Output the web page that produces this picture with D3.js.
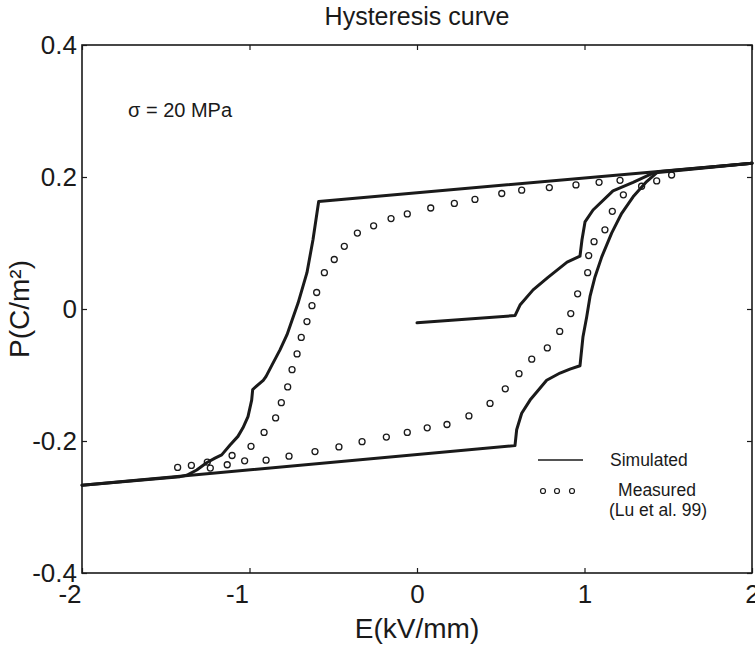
<!DOCTYPE html>
<html>
<head>
<meta charset="utf-8">
<script src="https://cdn.jsdelivr.net/npm/d3@7"></script>
<style>
  html, body { margin: 0; padding: 0; background: #fff; }
  svg { display: block; font-family: "Liberation Sans", Arial, Helvetica, sans-serif; }
</style>
</head>
<body>
<svg id="chart" width="755" height="645"></svg>
<script>
// Axis ticks and their labels
const xTicks = [-2, -1, 0, 1, 2];
const xTickLabels = ["-2", "-1", "0", "1", "2"];
const yTicks = [-0.4, -0.2, 0, 0.2, 0.4];
const yTickLabels = ["-0.4", "-0.2", "0", "0.2", "0.4"];

// Simulated response: virgin curve from the unpoled state
const initE = [0.0, 0.585, 0.615, 0.693, 0.782, 0.896, 0.973, 0.985, 1.003, 1.051, 1.170, 1.290, 1.409, 2.0];
const initP = [-0.021, -0.010, 0.006, 0.029, 0.048, 0.071, 0.080, 0.105, 0.132, 0.150, 0.179, 0.192, 0.206, 0.221];

// Simulated descending branch (E from +2 down to -2)
const descE = [2.0, -0.587, -0.621, -0.657, -0.710, -0.746, -0.776, -0.818, -0.866, -0.901, -0.918, -0.981, -0.987, -1.009, -1.039, -1.069, -1.116, -1.166, -1.206, -1.256, -1.315, -1.375, -1.415, -2.0];
const descP = [0.221, 0.163, 0.105, 0.055, 0.009, -0.017, -0.039, -0.062, -0.085, -0.102, -0.108, -0.122, -0.138, -0.163, -0.180, -0.193, -0.206, -0.221, -0.226, -0.233, -0.244, -0.252, -0.254, -0.267];

// Simulated ascending branch (E from -2 up to +2)
const ascE = [-2.0, 0.585, 0.595, 0.625, 0.675, 0.734, 0.774, 0.854, 0.913, 0.973, 0.991, 1.013, 1.033, 1.063, 1.103, 1.162, 1.222, 1.290, 1.371, 1.439, 2.0];
const ascP = [-0.267, -0.207, -0.183, -0.158, -0.138, -0.120, -0.108, -0.097, -0.091, -0.086, -0.042, -0.012, 0.019, 0.049, 0.079, 0.115, 0.145, 0.170, 0.193, 0.208, 0.221];

// Measured data (Lu et al. 99), descending branch
const measDescE = [1.520, 1.212, 1.087, 0.949, 0.790, 0.625, 0.506, 0.346, 0.223, 0.082, -0.058, -0.155, -0.259, -0.356, -0.434, -0.494, -0.553, -0.599, -0.627, -0.657, -0.691, -0.716, -0.746, -0.772, -0.810, -0.844, -0.913, -0.991, -1.104, -1.252, -1.347, -1.429];
const measDescP = [0.203, 0.195, 0.192, 0.188, 0.184, 0.180, 0.175, 0.166, 0.160, 0.153, 0.144, 0.137, 0.126, 0.115, 0.095, 0.075, 0.055, 0.025, 0.005, -0.019, -0.043, -0.068, -0.092, -0.118, -0.142, -0.165, -0.187, -0.208, -0.222, -0.232, -0.237, -0.240];

// Measured data (Lu et al. 99), ascending branch
const measAscE = [-1.234, -1.133, -1.029, -0.901, -0.764, -0.609, -0.466, -0.328, -0.183, -0.058, 0.061, 0.179, 0.310, 0.436, 0.527, 0.609, 0.685, 0.778, 0.852, 0.918, 0.959, 1.019, 1.025, 1.057, 1.122, 1.166, 1.232, 1.341, 1.431];
const measAscP = [-0.241, -0.236, -0.230, -0.229, -0.223, -0.216, -0.209, -0.201, -0.194, -0.187, -0.180, -0.175, -0.162, -0.143, -0.121, -0.098, -0.076, -0.059, -0.034, -0.007, 0.023, 0.055, 0.081, 0.102, 0.120, 0.148, 0.173, 0.186, 0.194];

const ink = "#1a1a1a";
const svg = d3.select("#chart");
const margin = { left: 82, right: 3, top: 45, bottom: 72 };
const W = 755, H = 645;

const x = d3.scaleLinear().domain([-2, 2]).range([margin.left, W - margin.right]);
const y = d3.scaleLinear().domain([-0.4, 0.4]).range([H - margin.bottom, margin.top]);

const zip = (a, b) => a.map((v, i) => [v, b[i]]);
const line = d3.line().x(d => x(d[0])).y(d => y(d[1]));

// Simulated curves
const simG = svg.append("g").attr("fill", "none").attr("stroke", ink)
  .attr("stroke-width", 3).attr("stroke-linejoin", "round").attr("stroke-linecap", "round");
[zip(initE, initP), zip(descE, descP), zip(ascE, ascP)].forEach(pts => {
  simG.append("path").attr("d", line(pts));
});

// Measured points
const measG = svg.append("g").attr("fill", "none").attr("stroke", ink).attr("stroke-width", 1.3);
[zip(measDescE, measDescP), zip(measAscE, measAscP)].forEach(pts => {
  measG.selectAll(null).data(pts).enter().append("circle")
    .attr("cx", d => x(d[0])).attr("cy", d => y(d[1])).attr("r", 3);
});

// Frame
svg.append("rect")
  .attr("x", x(-2)).attr("y", y(0.4))
  .attr("width", x(2) - x(-2)).attr("height", y(-0.4) - y(0.4))
  .attr("fill", "none").attr("stroke", ink).attr("stroke-width", 1.6);

// Axes with inward ticks
const xLab = d => xTickLabels[xTicks.indexOf(d)];
const yLab = d => yTickLabels[yTicks.indexOf(d)];
const xAxisB = d3.axisBottom(x).tickValues(xTicks).tickSize(-5).tickPadding(12).tickFormat(xLab);
const xAxisT = d3.axisTop(x).tickValues(xTicks).tickSize(-5).tickFormat("");
const yAxisL = d3.axisLeft(y).tickValues(yTicks).tickSize(-5).tickPadding(5).tickFormat(yLab);
const yAxisR = d3.axisRight(y).tickValues(yTicks).tickSize(-5).tickFormat("");

function styleAxis(g) {
  g.select(".domain").remove();
  g.selectAll(".tick line").attr("stroke", ink).attr("stroke-width", 1.2);
  g.selectAll(".tick text").attr("fill", ink)
    .style("font-family", "'Liberation Sans', Arial, sans-serif").style("font-size", "26px");
}
const gxB = svg.append("g").attr("transform", `translate(0,${y(-0.4)})`).call(xAxisB).call(styleAxis);
// negative labels sit with their digit just left of the tick
gxB.selectAll(".tick text")
  .attr("text-anchor", d => d < 0 ? "end" : "middle")
  .attr("dx", d => d < 0 ? -1 : 0);
svg.append("g").attr("transform", `translate(0,${y(0.4)})`).call(xAxisT).call(styleAxis);
svg.append("g").attr("transform", `translate(${x(-2)},0)`).call(yAxisL).call(styleAxis);
svg.append("g").attr("transform", `translate(${x(2)},0)`).call(yAxisR).call(styleAxis);

// Title and axis labels
svg.append("text").attr("x", (x(-2) + x(2)) / 2).attr("y", 25)
  .attr("text-anchor", "middle").attr("fill", ink).style("font-size", "25px")
  .text("Hysteresis curve");
svg.append("text").attr("x", (x(-2) + x(2)) / 2).attr("y", 638)
  .attr("text-anchor", "middle").attr("fill", ink).style("font-size", "28px")
  .text("E(kV/mm)");
svg.append("text").attr("transform", `translate(29,${y(0)}) rotate(-90)`)
  .attr("text-anchor", "middle").attr("fill", ink).style("font-size", "28px")
  .text("P(C/m²)");

// Stress annotation
svg.append("text").attr("x", 128).attr("y", 117).attr("fill", ink).style("font-size", "20px")
  .text("σ = 20 MPa");

// Legend
const leg = svg.append("g").attr("fill", ink).style("font-size", "17.5px");
leg.append("line").attr("x1", 538).attr("x2", 583).attr("y1", 460).attr("y2", 460)
  .attr("stroke", ink).attr("stroke-width", 1.5);
leg.append("text").attr("x", 610).attr("y", 466).text("Simulated");
[543, 557, 572].forEach(cx => {
  leg.append("circle").attr("cx", cx).attr("cy", 491).attr("r", 2.5)
    .attr("fill", "none").attr("stroke", ink).attr("stroke-width", 1.2);
});
leg.append("text").attr("x", 657).attr("y", 496).attr("text-anchor", "middle").text("Measured");
leg.append("text").attr("x", 658).attr("y", 516).attr("text-anchor", "middle").text("(Lu et al. 99)");
</script>
</body>
</html>
